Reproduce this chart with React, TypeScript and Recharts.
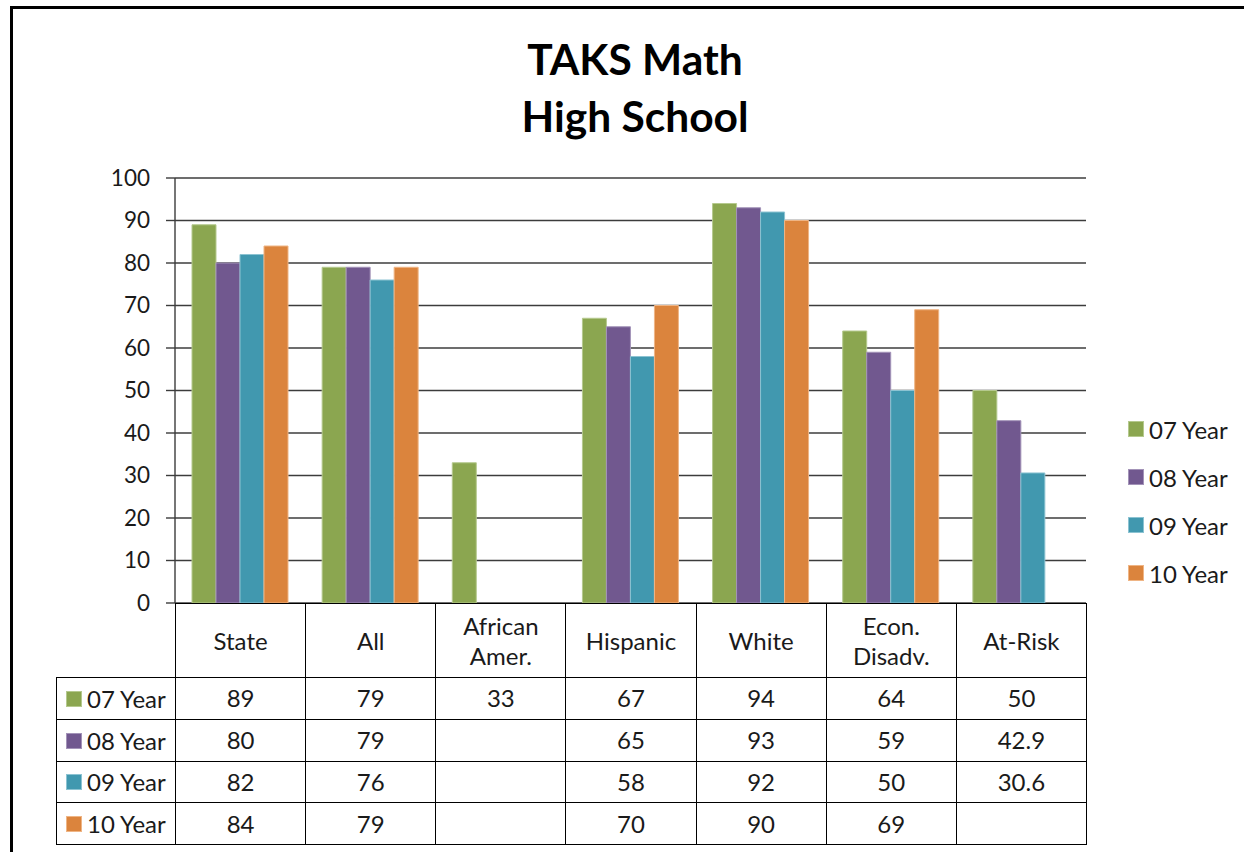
import React from 'react';
import { BarChart, Bar, XAxis, YAxis, CartesianGrid } from 'recharts';

const categories = ['State', 'All', 'African\nAmer.', 'Hispanic', 'White', 'Econ.\nDisadv.', 'At-Risk'];
const year07: (number | null)[] = [89, 79, 33, 67, 94, 64, 50];
const year08: (number | null)[] = [80, 79, null, 65, 93, 59, 42.9];
const year09: (number | null)[] = [82, 76, null, 58, 92, 50, 30.6];
const year10: (number | null)[] = [84, 79, null, 70, 90, 69, null];
const seriesNames = ['07 Year', '08 Year', '09 Year', '10 Year'];
const yTicks = [0, 10, 20, 30, 40, 50, 60, 70, 80, 90, 100];

const seriesValues = [year07, year08, year09, year10];
const seriesKeys = ['y07', 'y08', 'y09', 'y10'];
const colors = ['#8BA650', '#71588F', '#4198AF', '#DB843D'];
const edgeColors = ['#b5c98e', '#a393b8', '#8cc3d2', '#efb585'];

const data = categories.map((c, i) => {
  const row: Record<string, any> = { name: c };
  seriesKeys.forEach((k, s) => {
    row[k] = seriesValues[s][i];
  });
  return row;
});

const FONT = 'Lato, "Open Sans", sans-serif';
const W = 1244;
const H = 852;
const PLOT_L = 175;
const PLOT_R = 1086;
const PLOT_T = 178;
const PLOT_B = 603;
const Y_AXIS_W = 80;
const COL_W = (PLOT_R - PLOT_L) / categories.length;
const TABLE_L = 56;
const HEADER_H = 74;
const ROW_H = 41.75;
const LINE = '1.5px solid #000';
const TEXT_SIZE = 24;

const Swatch = ({ i }: { i: number }) => (
  <span
    style={{
      display: 'inline-block',
      width: 14,
      height: 14,
      background: colors[i],
      border: `1px solid ${edgeColors[i]}`,
      marginRight: 5,
      verticalAlign: 'middle',
    }}
  />
);

const fmt = (v: number | null) => (v === null || v === undefined ? '' : String(v));

export default function App() {
  return (
    <div
      style={{
        position: 'absolute',
        left: 0,
        top: 0,
        width: W,
        height: H,
        overflow: 'hidden',
        background: '#fff',
        fontFamily: FONT,
      }}
    >
      <div
        style={{
          position: 'absolute',
          left: 10,
          top: 6,
          width: W + 100,
          height: H + 100,
          border: '3px solid #000',
          boxSizing: 'border-box',
        }}
      />
      <div
        style={{
          position: 'absolute',
          left: 0,
          top: 30,
          width: 1270,
          textAlign: 'center',
          fontSize: 42.5,
          fontWeight: 700,
          lineHeight: '57px',
          color: '#000',
        }}
      >
        <div>TAKS Math</div>
        <div>High School</div>
      </div>
      <div style={{ position: 'absolute', left: 0, top: 0 }}>
        <BarChart
          width={W}
          height={H}
          data={data}
          margin={{ top: PLOT_T, right: W - PLOT_R, bottom: H - PLOT_B, left: PLOT_L - Y_AXIS_W }}
          barCategoryGap={17}
          barGap={0}
          style={{ fontFamily: FONT }}
        >
          <CartesianGrid vertical={false} stroke="#3c3c3c" strokeWidth={1.4} />
          <XAxis dataKey="name" hide />
          <YAxis
            width={Y_AXIS_W}
            domain={[0, 100]}
            ticks={yTicks}
            interval={0}
            tickSize={9}
            tickMargin={16}
            axisLine={{ stroke: '#3c3c3c', strokeWidth: 1.4 }}
            tickLine={{ stroke: '#3c3c3c', strokeWidth: 1.4 }}
            tick={{ fontSize: 22.5, fill: '#1a1a1a', fontFamily: FONT }}
          />
          {seriesKeys.map((k, i) => (
            <Bar
              key={k}
              dataKey={k}
              name={seriesNames[i]}
              fill={colors[i]}
              stroke={edgeColors[i]}
              strokeWidth={1}
              isAnimationActive={false}
            />
          ))}
        </BarChart>
      </div>
      <div style={{ position: 'absolute', left: 1128, top: 405 }}>
        {seriesNames.map((n, i) => (
          <div key={n} style={{ height: 48, display: 'flex', alignItems: 'center' }}>
            <Swatch i={i} />
            <span style={{ fontSize: TEXT_SIZE, color: '#1a1a1a' }}>{n}</span>
          </div>
        ))}
      </div>
      <table
        style={{
          position: 'absolute',
          left: TABLE_L,
          top: PLOT_B,
          borderCollapse: 'collapse',
          tableLayout: 'fixed',
          fontSize: TEXT_SIZE,
          color: '#1a1a1a',
        }}
      >
        <colgroup>
          <col style={{ width: PLOT_L - TABLE_L }} />
          {categories.map((c) => (
            <col key={c} style={{ width: COL_W }} />
          ))}
        </colgroup>
        <tbody>
          <tr style={{ height: HEADER_H }}>
            <td style={{ border: 'none', padding: 0 }} />
            {categories.map((c) => (
              <td
                key={c}
                style={{
                  border: LINE,
                  textAlign: 'center',
                  padding: 0,
                  lineHeight: '30px',
                  whiteSpace: 'pre-line',
                }}
              >
                {c}
              </td>
            ))}
          </tr>
          {seriesNames.map((n, s) => (
            <tr key={n} style={{ height: ROW_H }}>
              <td style={{ border: LINE, padding: '0 0 2px 9px', whiteSpace: 'nowrap', lineHeight: '28px' }}>
                <Swatch i={s} />
                <span style={{ verticalAlign: 'middle' }}>{n}</span>
              </td>
              {seriesValues[s].map((v, i) => (
                <td key={i} style={{ border: LINE, textAlign: 'center', padding: 0, lineHeight: '28px' }}>
                  {fmt(v)}
                </td>
              ))}
            </tr>
          ))}
        </tbody>
      </table>
    </div>
  );
}
